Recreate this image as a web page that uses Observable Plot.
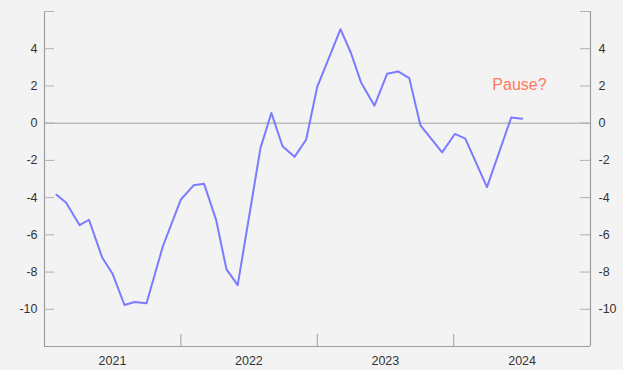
<!DOCTYPE html>
<html>
<head>
<meta charset="utf-8">
<script src="https://cdn.jsdelivr.net/npm/d3@7"></script>
<script src="https://cdn.jsdelivr.net/npm/@observablehq/plot@0.6"></script>
<style>
  html, body { margin: 0; padding: 0; background: #f3f3f3; }
  #chart svg { display: block; }
</style>
</head>
<body>
<div id="chart"></div>
<script>
// Observation dates and values of the series
const dates = [
  "2021-02-02", "2021-02-28", "2021-04-05", "2021-04-30", "2021-06-04", "2021-07-02",
  "2021-08-03", "2021-08-30", "2021-10-01", "2021-11-14",
  "2022-01-01", "2022-02-04", "2022-03-04", "2022-04-05", "2022-05-03", "2022-06-02",
  "2022-08-02", "2022-08-31", "2022-09-30", "2022-11-01", "2022-12-02",
  "2023-01-01", "2023-02-05", "2023-03-04", "2023-04-01", "2023-04-28", "2023-06-03",
  "2023-07-07", "2023-08-05", "2023-09-04", "2023-10-04", "2023-12-01",
  "2024-01-04", "2024-02-01", "2024-03-30", "2024-06-03", "2024-07-02"
];
const values = [
  -3.85, -4.28, -5.48, -5.19, -7.20, -8.09,
  -9.77, -9.61, -9.68, -6.60,
  -4.10, -3.34, -3.26, -5.18, -7.86, -8.70,
  -1.33, 0.55, -1.24, -1.81, -0.89,
  1.97, 3.70, 5.05, 3.77, 2.19, 0.94,
  2.66, 2.78, 2.42, -0.12, -1.57,
  -0.58, -0.83, -3.44, 0.31, 0.24
];

// Axis ticks
const yTicks = [-10, -8, -6, -4, -2, 0, 2, 4];
const yTopTick = [6];
const yearLabels = ["2021", "2022", "2023", "2024"];
const yearBounds = ["2021-01-01", "2022-01-01", "2023-01-01", "2024-01-01", "2025-01-01"];

// Annotation
const noteText = "Pause?";
const noteDate = "2024-06-25";
const noteValue = 2.06;

const parse = d3.utcParse("%Y-%m-%d");
const data = dates.map((d, i) => ({date: parse(d), value: values[i]}));
const bounds = yearBounds.map(parse);
const mids = yearLabels.map((y) => parse(`${y}-07-02`));
const x0 = bounds[0], x1 = bounds[bounds.length - 1];
const yMin = -12, yMax = 6;

const font = "'Liberation Sans', Arial, Helvetica, sans-serif";
const axisColor = "#9e9e9e";
const tickLen = d3.utcDay.offset(x0, 27) - x0; // ~10px inward ticks

const chart = Plot.plot({
  width: 623,
  height: 370,
  marginLeft: 44,
  marginRight: 33,
  marginTop: 11,
  marginBottom: 24,
  style: {background: "#f3f3f3", fontFamily: font, fontSize: "12.5px", color: "#333"},
  x: {type: "utc", domain: [x0, x1], axis: null},
  y: {domain: [yMin, yMax], axis: null},
  marks: [
    // zero reference line
    Plot.ruleY([0], {stroke: axisColor, strokeWidth: 1}),
    // frame: left, right and bottom axis lines
    Plot.ruleX([x0, x1], {stroke: axisColor, strokeWidth: 1.2}),
    Plot.ruleY([yMin], {stroke: axisColor, strokeWidth: 1.2}),
    // inward y ticks on both sides
    Plot.ruleY([...yTicks, ...yTopTick], {x1: x0, x2: new Date(+x0 + tickLen), stroke: "#b0b0b0"}),
    Plot.ruleY([...yTicks, ...yTopTick], {x1: new Date(+x1 - tickLen), x2: x1, stroke: "#b0b0b0"}),
    // year boundary ticks on the bottom axis
    Plot.ruleX(bounds.slice(1, -1), {y1: yMin, y2: yMin + 12 / 18.6, stroke: axisColor}),
    // y tick labels, left and right
    Plot.text(yTicks, {x: x0, y: (d) => d, text: (d) => String(d), dx: -7, textAnchor: "end", fill: "#333", fontSize: 12.5}),
    Plot.text(yTicks, {x: x1, y: (d) => d, text: (d) => String(d), dx: 8, textAnchor: "start", fill: "#333", fontSize: 12.5}),
    // year labels centred in each year
    Plot.text(mids, {x: (d) => d, y: yMin, text: (d, i) => yearLabels[i], dy: 14, fill: "#333", fontSize: 12.5}),
    // the series
    Plot.line(data, {x: "date", y: "value", stroke: "#7b7bff", strokeWidth: 2, strokeLinejoin: "round"}),
    // annotation
    Plot.text([noteText], {x: parse(noteDate), y: noteValue, text: (d) => d, fill: "#ff7a5c", fontSize: 16})
  ]
});

document.getElementById("chart").appendChild(chart);
</script>
</body>
</html>
